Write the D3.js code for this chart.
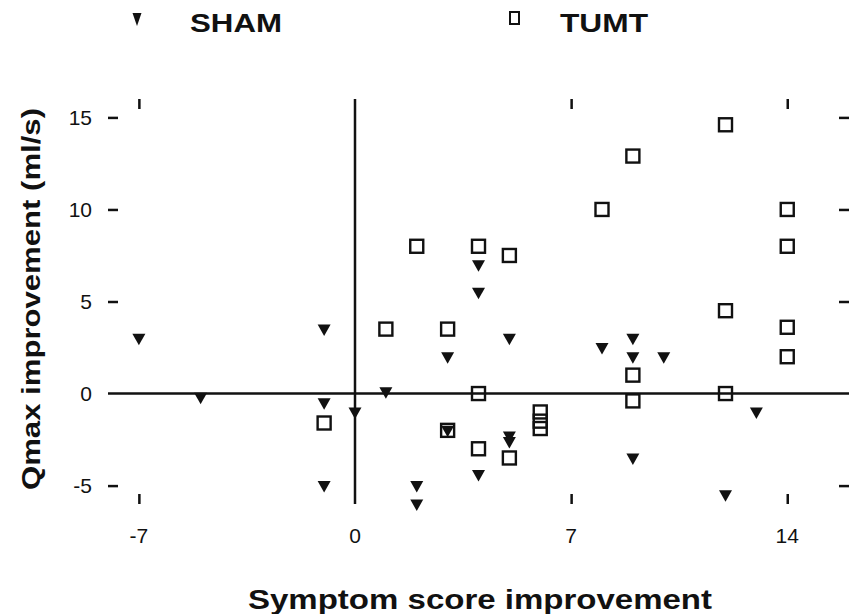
<!DOCTYPE html>
<html>
<head>
<meta charset="utf-8">
<script src="https://cdn.jsdelivr.net/npm/d3@7"></script>
<style>
  body { margin: 0; background: #fff; }
  text { font-family: "Liberation Sans", Arial, Helvetica, sans-serif; fill: #111; }
</style>
</head>
<body>
<div id="chart"></div>
<script>
// data
const sham_x = [-7, -5, -1, -1, -1, 0, 1, 2, 2, 3, 3, 4, 4, 4, 5, 5, 5, 8, 9, 9, 9, 10, 12, 13]
const sham_y = [3, -0.2, 3.5, -0.5, -5, -1, 0.1, -5, -6, 2, -2, 7, 5.5, -4.4, 3, -2.3, -2.6, 2.5, 3, 2, -3.5, 2, -5.5, -1]

const tumt_x = [-1, 1, 2, 3, 3, 4, 4, 4, 5, 5, 6, 6, 6, 8, 9, 9, 9, 12, 12, 12, 14, 14, 14, 14]
const tumt_y = [-1.6, 3.5, 8, 3.5, -2, 8, 0, -3, 7.5, -3.5, -1, -1.5, -1.9, 10, 12.9, 1, -0.4, 14.6, 4.5, 0, 10, 8, 3.6, 2]

const x_ticks = [-7, 0, 7, 14]
const y_ticks = [-5, 0, 5, 10, 15]

init()

function init(){
    const width = 851, height = 614

    let svg = d3.select('#chart')
                .append('svg')
                .attr('width', width)
                .attr('height', height)

    const x = d3.scaleLinear().domain([-8, 16]).range([108, 849])
    const y = d3.scaleLinear().domain([-6, 16]).range([504, 99])

    const tick_len = 10

    // tick marks on an invisible frame, pointing inward
    const xt = x_ticks.filter(d => d !== 0)
    const yt = y_ticks.filter(d => d !== 0)

    svg.append('g').attr('transform', `translate(0,${y.range()[1]})`)
        .call(d3.axisBottom(x).tickValues(xt).tickSize(tick_len).tickFormat(''))
        .call(g => g.select('.domain').remove())
    svg.append('g').attr('transform', `translate(0,${y.range()[0]})`)
        .call(d3.axisTop(x).tickValues(xt).tickSize(tick_len).tickFormat(''))
        .call(g => g.select('.domain').remove())
    svg.append('g').attr('transform', `translate(${x.range()[0]},0)`)
        .call(d3.axisRight(y).tickValues(yt).tickSize(tick_len).tickFormat(''))
        .call(g => g.select('.domain').remove())
    svg.append('g').attr('transform', `translate(${x.range()[1]},0)`)
        .call(d3.axisLeft(y).tickValues(yt).tickSize(tick_len).tickFormat(''))
        .call(g => g.select('.domain').remove())

    svg.selectAll('.tick line').style('stroke', '#111').style('stroke-width', 2.5)

    // zero lines
    svg.append('line')
        .attr('x1', x.range()[0]).attr('x2', x.range()[1])
        .attr('y1', y(0)).attr('y2', y(0))
        .style('stroke', '#111').style('stroke-width', 2.5)
    svg.append('line')
        .attr('x1', x(0)).attr('x2', x(0))
        .attr('y1', y.range()[1]).attr('y2', y.range()[0])
        .style('stroke', '#111').style('stroke-width', 2.5)

    // tick labels
    svg.selectAll('.xlab').data(x_ticks).enter().append('text')
        .attr('x', d => x(d))
        .attr('y', 543)
        .attr('text-anchor', 'middle')
        .style('font-size', '21px')
        .text(d => d)

    svg.selectAll('.ylab').data(y_ticks).enter().append('text')
        .attr('x', 92)
        .attr('y', d => y(d) + 7.5)
        .attr('text-anchor', 'end')
        .style('font-size', '21px')
        .text(d => d)

    // markers
    const tri = 'M-6.5,-4.5L6.5,-4.5L0,7Z'
    const sham = sham_x.map((d, i) => [d, sham_y[i]])
    const tumt = tumt_x.map((d, i) => [d, tumt_y[i]])

    svg.selectAll('.tumt').data(tumt).enter().append('rect')
        .attr('x', d => x(d[0]) - 6.5)
        .attr('y', d => y(d[1]) - 6.5)
        .attr('width', 13)
        .attr('height', 13)
        .style('fill', 'none')
        .style('stroke', '#111')
        .style('stroke-width', 2.4)

    svg.selectAll('.sham').data(sham).enter().append('path')
        .attr('d', tri)
        .attr('transform', d => `translate(${x(d[0])},${y(d[1])})`)
        .style('fill', '#111')

    // legend
    svg.append('path')
        .attr('d', 'M-4.5,-6L4.5,-6L0,7Z')
        .attr('transform', 'translate(137,19)')
        .style('fill', '#111')
    svg.append('text')
        .attr('x', 190).attr('y', 32)
        .attr('textLength', 92).attr('lengthAdjust', 'spacingAndGlyphs')
        .style('font-size', '26px').style('font-weight', 'bold')
        .text('SHAM')
    svg.append('rect')
        .attr('x', 510).attr('y', 12)
        .attr('width', 9).attr('height', 12)
        .style('fill', 'none').style('stroke', '#111').style('stroke-width', 2)
    svg.append('text')
        .attr('x', 560).attr('y', 32)
        .attr('textLength', 88).attr('lengthAdjust', 'spacingAndGlyphs')
        .style('font-size', '26px').style('font-weight', 'bold')
        .text('TUMT')

    // axis titles
    svg.append('text')
        .attr('x', 480).attr('y', 609)
        .attr('text-anchor', 'middle')
        .attr('textLength', 464).attr('lengthAdjust', 'spacingAndGlyphs')
        .style('font-size', '27px').style('font-weight', 'bold')
        .text('Symptom score improvement')

    svg.append('text')
        .attr('transform', 'translate(40,299) rotate(-90)')
        .attr('text-anchor', 'middle')
        .attr('textLength', 382).attr('lengthAdjust', 'spacingAndGlyphs')
        .style('font-size', '25px').style('font-weight', 'bold')
        .text('Qmax improvement (ml/s)')
}
</script>
</body>
</html>
